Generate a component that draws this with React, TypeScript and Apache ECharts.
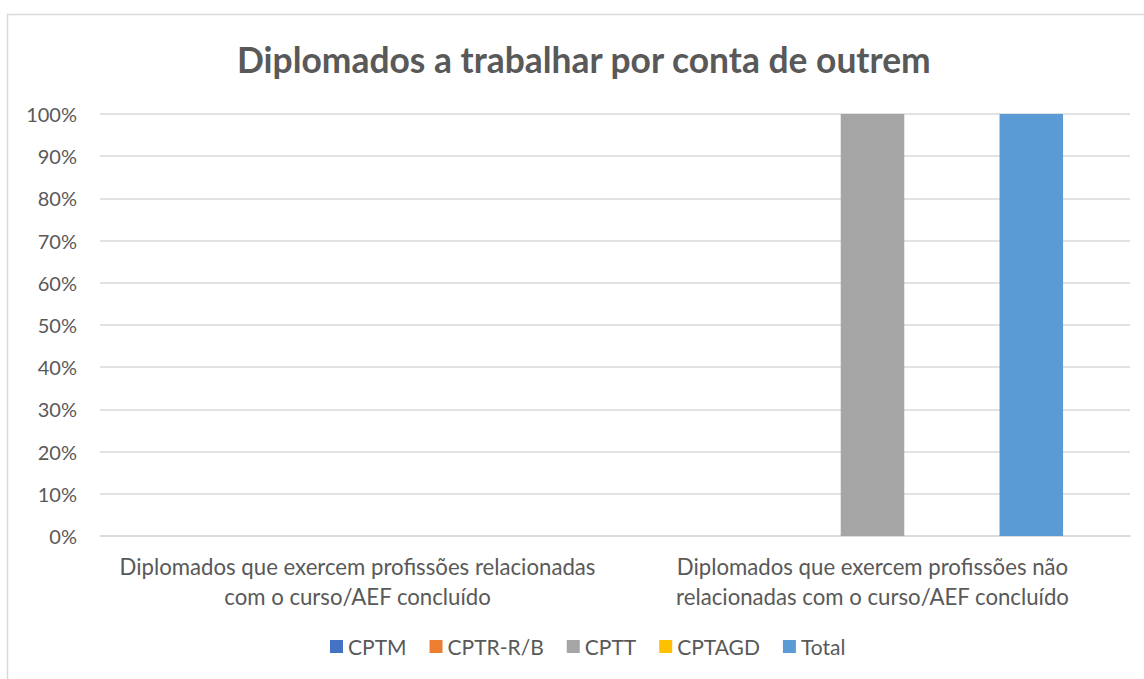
import React, { useEffect, useRef } from "react";
import * as echarts from "echarts";

const categories = [
  "Diplomados que exercem profissões relacionadas\ncom o curso/AEF concluído",
  "Diplomados que exercem profissões não\nrelacionadas com o curso/AEF concluído",
];
const seriesNames = ["CPTM", "CPTR-R/B", "CPTT", "CPTAGD", "Total"];
const cptm = [0, 0];
const cptrrb = [0, 0];
const cptt = [0, 100];
const cptagd = [0, 0];
const total = [0, 100];
const colors = ["#4472C4", "#ED7D31", "#A5A5A5", "#FFC000", "#5B9BD5"];
const titleText = "Diplomados a trabalhar por conta de outrem";

export default function App() {
  const ref = useRef<HTMLDivElement>(null);
  useEffect(() => {
    if (!ref.current) return;
    const chart = echarts.init(ref.current, null, { renderer: "svg" });
    const values = [cptm, cptrrb, cptt, cptagd, total];
    const font = "Lato, 'Liberation Sans', sans-serif";
    chart.setOption({
      animation: false,
      backgroundColor: "#ffffff",
      color: colors,
      textStyle: { fontFamily: font },
      title: {
        text: titleText,
        left: 232,
        top: 37,
        textStyle: { fontSize: 35.4, fontWeight: "bold", color: "#595959", fontFamily: font },
      },
      graphic: [
        {
          type: "rect",
          shape: { x: 7.5, y: 14.5, width: 1300, height: 800 },
          style: { fill: "none", stroke: "#D9D9D9", lineWidth: 1.5 },
          silent: true,
        },
      ],
      legend: {
        data: seriesNames,
        left: 325,
        top: 631,
        itemWidth: 13,
        itemHeight: 13,
        itemGap: 23,
        icon: "rect",
        textStyle: { fontSize: 21, color: "#595959", fontFamily: font },
      },
      grid: { left: 100, right: 14, top: 114, bottom: 143, containLabel: false },
      xAxis: {
        type: "category",
        data: categories,
        axisLine: { show: true, lineStyle: { color: "#D9D9D9", width: 1.5 } },
        axisTick: { show: false },
        axisLabel: {
          fontSize: 22.2,
          color: "#595959",
          lineHeight: 30,
          margin: 15,
          interval: 0,
          fontFamily: font,
        },
      },
      yAxis: {
        type: "value",
        min: 0,
        max: 100,
        interval: 10,
        axisLine: { show: false },
        axisTick: { show: false },
        splitLine: { lineStyle: { color: "#D9D9D9", width: 1.5 } },
        axisLabel: {
          formatter: "{value}%",
          fontSize: 20,
          color: "#595959",
          margin: 23,
          fontFamily: font,
        },
      },
      series: seriesNames.map((name, i) => ({
        name,
        type: "bar",
        data: values[i],
        barGap: "25%",
        barCategoryGap: "26%",
        itemStyle: { color: colors[i] },
      })),
    });
    return () => chart.dispose();
  }, []);
  return (
    <div
      ref={ref}
      style={{ position: "fixed", left: 0, top: 0, width: 1144, height: 679 }}
    />
  );
}
